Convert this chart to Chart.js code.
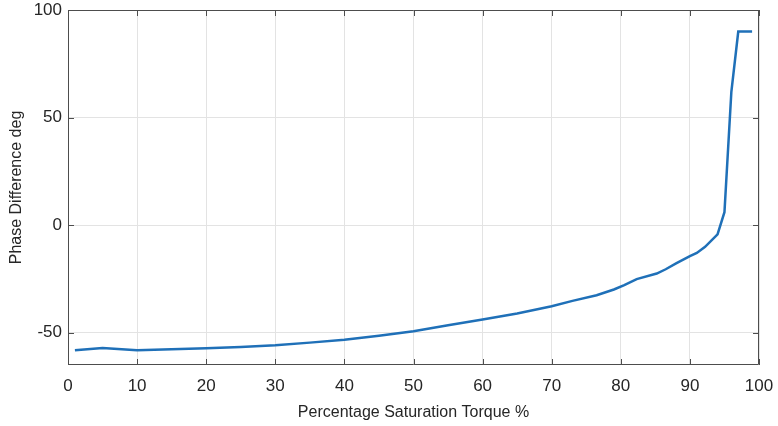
<!DOCTYPE html>
<html>
<head>
<meta charset="utf-8">
<script src="https://cdn.jsdelivr.net/npm/chart.js@4.4.0/dist/chart.umd.min.js"></script>
<style>
  html, body { margin: 0; padding: 0; background: #fff; }
  #wrap { width: 778px; height: 426px; position: relative; }
</style>
</head>
<body>
<div id="wrap"><canvas id="phaseChart"></canvas></div>
<script>
'use strict'

// data
const torquePct = [1, 5, 10, 15, 20, 25, 30, 35, 40, 45, 50, 55, 60, 65, 70, 73, 76.5, 79, 80.5, 82.3, 85.2, 86.5, 88, 90, 91, 92.2, 94, 95, 96, 97, 99];
const phaseDeg  = [-58.1, -57.1, -58.1, -57.7, -57.2, -56.6, -55.8, -54.6, -53.3, -51.4, -49.3, -46.5, -43.9, -41.1, -37.7, -35.2, -32.6, -29.9, -27.9, -25.1, -22.5, -20.5, -17.8, -14.4, -12.9, -10.1, -4.3, 6, 62, 90, 90];
const xTicks = [0, 10, 20, 30, 40, 50, 60, 70, 80, 90, 100];
const yTicks = [-50, 0, 50, 100];

const axisColor = '#4d4d4d';
const textColor = '#262626';
const gridColor = '#e3e3e3';

const points = torquePct.map((x, i) => ({ x: x, y: phaseDeg[i] }));

/* box + inward ticks, matlab style */
const boxPlugin = {
  id: 'boxTicks',
  afterDraw(chart) {
    const ctx = chart.ctx;
    const a = chart.chartArea;
    const xs = chart.scales.x, ys = chart.scales.y;
    const len = 6;
    ctx.save();
    ctx.strokeStyle = axisColor;
    ctx.lineWidth = 1;
    ctx.beginPath();
    ctx.rect(a.left + 0.5, a.top + 0.5, a.right - a.left - 1, a.bottom - a.top - 1);
    xTicks.forEach(v => {
      const px = Math.round(xs.getPixelForValue(v)) + 0.5;
      ctx.moveTo(px, a.bottom); ctx.lineTo(px, a.bottom - len);
      ctx.moveTo(px, a.top); ctx.lineTo(px, a.top + len);
    });
    yTicks.forEach(v => {
      const py = Math.round(ys.getPixelForValue(v)) + 0.5;
      ctx.moveTo(a.left, py); ctx.lineTo(a.left + len, py);
      ctx.moveTo(a.right, py); ctx.lineTo(a.right - len, py);
    });
    ctx.stroke();
    ctx.restore();
  }
};

const ctx = document.getElementById('phaseChart').getContext('2d');

const config = {
  type: 'line',
  data: {
    datasets: [{
      data: points,
      borderColor: '#1f70b8',
      borderWidth: 2.5,
      pointRadius: 0,
      tension: 0,
      fill: false
    }]
  },
  options: {
    responsive: true,
    maintainAspectRatio: false,
    animation: false,
    layout: { padding: { top: 10, right: 19, left: 0, bottom: 0 } },
    plugins: { legend: { display: false }, tooltip: { enabled: false } },
    scales: {
      x: {
        type: 'linear',
        min: 0,
        max: 100,
        afterBuildTicks: s => { s.ticks = xTicks.map(v => ({ value: v })); },
        afterFit: s => { s.height = 61; s.paddingLeft = 0; s.paddingRight = 0; },
        grid: { color: gridColor, drawTicks: false },
        border: { display: false },
        ticks: { color: textColor, padding: 11, maxRotation: 0, font: { family: 'Liberation Sans, Arial, sans-serif', size: 17 } },
        title: { display: true, text: 'Percentage Saturation Torque %', color: textColor, padding: { top: 6, bottom: 4 }, font: { family: 'Liberation Sans, Arial, sans-serif', size: 16 } }
      },
      y: {
        type: 'linear',
        min: -65,
        max: 100,
        afterBuildTicks: s => { s.ticks = yTicks.map(v => ({ value: v })); },
        afterFit: s => { s.width = 68; s.paddingTop = 0; s.paddingBottom = 0; },
        grid: { color: gridColor, drawTicks: false },
        border: { display: false },
        ticks: { color: textColor, padding: 6, font: { family: 'Liberation Sans, Arial, sans-serif', size: 17 } },
        title: { display: true, text: 'Phase Difference deg', color: textColor, padding: { top: 7, bottom: 2 }, font: { family: 'Liberation Sans, Arial, sans-serif', size: 16 } }
      }
    }
  },
  plugins: [boxPlugin]
};

const chart = new Chart(ctx, config);
</script>
</body>
</html>
